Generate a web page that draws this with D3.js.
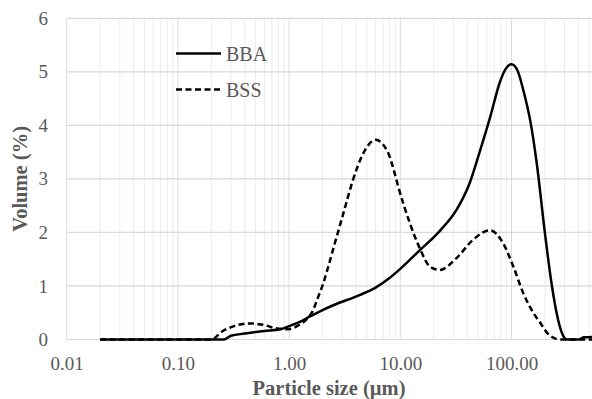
<!DOCTYPE html>
<html>
<head>
<meta charset="utf-8">
<script src="https://cdn.jsdelivr.net/npm/d3@7"></script>
<style>
  body { margin: 0; background: #fff; }
  svg { display: block; font-family: "Liberation Serif", "Times New Roman", serif; }
</style>
</head>
<body>
<svg id="chart" width="592" height="399"></svg>
<script>
// particle size (um) and volume (%)
var bbaSize = [0.02, 0.1, 0.26, 0.3, 0.4, 0.6, 0.83, 1.0, 1.25, 1.54, 2.0, 2.5, 4.3, 6, 8, 10, 15, 22.7, 32, 42, 52, 64, 79, 89, 100, 113, 128, 148, 168, 200, 229, 263, 290, 315, 400, 450, 600];
var bbaVol  = [0, 0, 0, 0.07, 0.11, 0.16, 0.19, 0.25, 0.33, 0.43, 0.55, 0.64, 0.83, 0.97, 1.15, 1.32, 1.67, 2.03, 2.42, 2.92, 3.52, 4.14, 4.82, 5.06, 5.14, 5.03, 4.65, 4.07, 3.32, 1.98, 1.05, 0.36, 0.08, 0, 0, 0.04, 0.05];

var bssSize = [0.02, 0.2, 0.25, 0.32, 0.44, 0.6, 0.72, 0.95, 1.25, 1.5, 1.6, 1.83, 2.03, 2.2, 2.5, 3.07, 3.78, 4.65, 6.0, 7.8, 8.7, 9.6, 12.2, 15, 18.5, 22.7, 32, 45, 64, 84, 104, 128, 157, 183, 210, 240, 270, 600];
var bssVol  = [0, 0, 0.15, 0.25, 0.30, 0.27, 0.22, 0.19, 0.28, 0.42, 0.5, 0.8, 1.05, 1.29, 1.7, 2.35, 3.0, 3.48, 3.73, 3.48, 3.18, 2.85, 2.17, 1.70, 1.36, 1.30, 1.52, 1.86, 2.04, 1.80, 1.36, 0.86, 0.50, 0.30, 0.12, 0.03, 0, 0];

var xTicks = [0.01, 0.1, 1, 10, 100];
var xTickLabels = ["0.01", "0.10", "1.00", "10.00", "100.00"];
var yTicks = [0, 1, 2, 3, 4, 5, 6];

var series = [
  {name: "BBA", size: bbaSize, vol: bbaVol, dash: null},
  {name: "BSS", size: bssSize, vol: bssVol, dash: "6,3.5"}
];

var svg = d3.select("#chart");

// log scale, plot runs past the right edge of the picture
var x = d3.scaleLog().domain([0.01, 1000]).range([66.7, 622.7]);
var y = d3.scaleLinear().domain([0, 6]).range([339.5, 18.3]);

// vertical gridlines (minor then major)
var minor = [];
xTicks.forEach(function(dec) {
  for (var k = 2; k <= 9; k++) minor.push(dec * k);
});
svg.append("g").selectAll("line")
  .data(minor)
  .enter().append("line")
  .attr("x1", function(d) { return x(d); })
  .attr("x2", function(d) { return x(d); })
  .attr("y1", y(6)).attr("y2", y(0))
  .attr("stroke", "#ececec").attr("stroke-width", 1);

svg.append("g").selectAll("line")
  .data(xTicks)
  .enter().append("line")
  .attr("x1", function(d) { return x(d); })
  .attr("x2", function(d) { return x(d); })
  .attr("y1", y(6)).attr("y2", y(0))
  .attr("stroke", "#dcdcdc").attr("stroke-width", 1);

// horizontal gridlines
svg.append("g").selectAll("line")
  .data(yTicks)
  .enter().append("line")
  .attr("x1", x(0.01)).attr("x2", 640)
  .attr("y1", function(d) { return y(d); })
  .attr("y2", function(d) { return y(d); })
  .attr("stroke", "#d9d9d9").attr("stroke-width", 1.2);

// axes
var xAxis = svg.append("g")
  .attr("transform", "translate(0," + y(0) + ")")
  .call(d3.axisBottom(x)
    .tickValues(xTicks)
    .tickFormat(function(d, i) { return xTickLabels[i]; })
    .tickSize(0)
    .tickPadding(17.5));
xAxis.select(".domain").remove();

var yAxis = svg.append("g")
  .attr("transform", "translate(48,0)")
  .call(d3.axisLeft(y).tickValues(yTicks).tickFormat(d3.format("d")).tickSize(0).tickPadding(0));
yAxis.select(".domain").remove();

svg.selectAll(".tick text")
  .attr("font-family", "Liberation Serif, serif")
  .attr("font-size", 19)
  .attr("fill", "#595959");

// axis titles
svg.append("text")
  .attr("x", 329).attr("y", 395)
  .attr("text-anchor", "middle")
  .attr("font-weight", "bold").attr("font-size", 20.5)
  .attr("fill", "#595959")
  .text("Particle size (µm)");

svg.append("text")
  .attr("transform", "translate(27," + y(3) + ") rotate(-90)")
  .attr("text-anchor", "middle")
  .attr("font-weight", "bold").attr("font-size", 20.5)
  .attr("fill", "#595959")
  .text("Volume (%)");

// curves
var line = d3.line()
  .x(function(d) { return x(d[0]); })
  .y(function(d) { return y(d[1]); })
  .curve(d3.curveMonotoneX);

series.forEach(function(s) {
  var pts = s.size.map(function(v, i) { return [v, s.vol[i]]; });
  svg.append("path")
    .datum(pts)
    .attr("fill", "none")
    .attr("stroke", "#000")
    .attr("stroke-width", 2.5)
    .attr("stroke-dasharray", s.dash)
    .attr("d", line);
});

// legend
var legend = svg.append("g").selectAll("g")
  .data(series)
  .enter().append("g")
  .attr("transform", function(d, i) { return "translate(176," + (53.5 + i * 36) + ")"; });

legend.append("line")
  .attr("x1", 0).attr("x2", 45)
  .attr("stroke", "#000").attr("stroke-width", 2.5)
  .attr("stroke-dasharray", function(d) { return d.dash; });

legend.append("text")
  .attr("x", 50).attr("y", 7.5)
  .attr("font-size", 20).attr("fill", "#595959")
  .text(function(d) { return d.name; });
</script>
</body>
</html>
